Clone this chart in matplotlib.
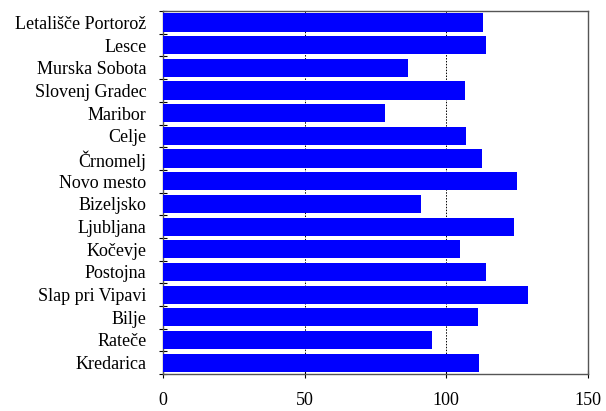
import matplotlib.pyplot as plt
import numpy as np

stations = ["Letališče Portorož", "Lesce", "Murska Sobota", "Slovenj Gradec",
            "Maribor", "Celje", "Črnomelj", "Novo mesto", "Bizeljsko",
            "Ljubljana", "Kočevje", "Postojna", "Slap pri Vipavi", "Bilje",
            "Rateče", "Kredarica"]
values = [113.1, 114.1, 86.6, 106.7, 78.5, 107.0, 112.7, 125.1, 91.2,
          124.0, 104.9, 114.1, 128.9, 111.3, 95.0, 111.7]

plt.rcParams['font.family'] = ['Liberation Serif', 'DejaVu Serif']
plt.rcParams['font.size'] = 13

fig = plt.figure(figsize=(6.06, 4.11), dpi=100)
ax = fig.add_axes([0.269, 0.090, 0.701, 0.883])

y = np.arange(len(stations))
ax.barh(y, values, height=0.8, color="#0000ff", zorder=3)
ax.set_ylim(len(stations) - 0.5, -0.5)
ax.set_xlim(0, 150)
ax.set_xticks([0, 50, 100, 150])
ax.set_yticks(y)
ax.set_yticklabels(stations)
ax.set_yticks(np.arange(len(stations) + 1) - 0.5, minor=True)
ax.tick_params(axis="y", which="major", length=0, pad=12)
ax.tick_params(axis="y", which="minor", direction="inout", length=6, width=0.8)
ax.tick_params(axis="x", direction="inout", length=6, width=0.8, pad=10)

for gx in [50, 100]:
    ax.axvline(gx, color="black", linestyle=(0, (1.5, 1.5)), linewidth=0.7, zorder=1)

for s in ax.spines.values():
    s.set_color("#555555")
    s.set_linewidth(1.0)

fig.savefig("out.png", dpi=100)
